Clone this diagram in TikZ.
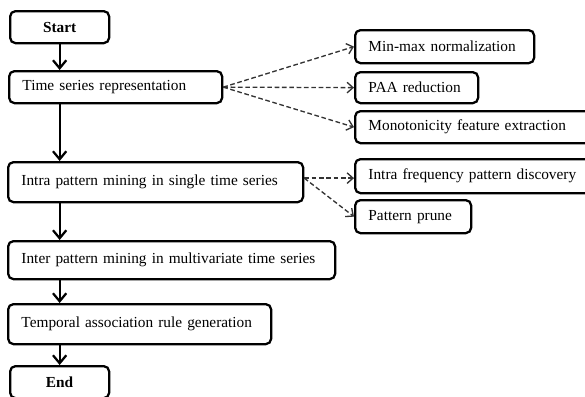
\documentclass[tikz,border=0pt]{standalone}
\usepackage{fontspec}
\setmainfont{Liberation Serif}
\usetikzlibrary{arrows.meta}

\begin{document}
\begin{tikzpicture}[x=0.75pt, y=-0.75pt,
  box/.style={draw, rounded corners=4pt, line width=1.7pt, anchor=north west,
              inner xsep=10pt, inner ysep=0pt, align=left,
              font=\fontsize{11.5}{13}\selectfont},
  term/.style={box, align=center, font=\fontsize{11.5}{13}\selectfont\bfseries},
  flow/.style={line width=1.7pt, -{Straight Barb[length=6pt, width=10pt]}},
  dashflow/.style={line width=1pt, black!80, dash pattern=on 3.5pt off 2pt,
                   -{Straight Barb[length=4.5pt, width=8pt]}}]

%─────────────
% Frame (pixels of the page)
%─────────────
\clip (0,0) rectangle (585,396);

%───────────────────────────────────────────────────────
% Command to place a step box
% #1 = name, (#2,#3) = top left corner, #4 = width, #5 = height, #6 = text
%───────────────────────────────────────────────────────
\newcommand{\flowBox}[6]{%
  \pgfmathsetmacro{\tw}{#4*0.75-20}
  \node[box, text width=\tw pt, minimum height=#5*0.75pt] (#1) at (#2,#3) {#6};
}

%─────────────
% Main chain
%─────────────
\node[term, text width=54.25pt, minimum height=24pt] (start) at (9,10) {Start};
\flowBox{tsr}{8}{70}{213}{32}{Time series representation}
\flowBox{intra}{7}{161}{295}{40}{Intra pattern mining in single time series}
\flowBox{inter}{7}{240}{327}{38}{Inter pattern mining in multivariate time series}
\flowBox{rule}{7}{303}{263}{40}{Temporal association rule generation}
\node[term, text width=54.25pt, minimum height=24pt] (end) at (9,365) {End};

%─────────────
% Side steps
%─────────────
\flowBox{minmax}{354}{29}{179}{33}{Min-max normalization}
\flowBox{paa}{354}{71}{123}{31}{PAA reduction}
\flowBox{mono}{354}{110}{240}{32}{Monotonicity feature extraction}
\flowBox{freq}{354}{158}{240}{34}{Intra frequency pattern discovery}
\flowBox{prune}{354}{199}{116}{33}{Pattern prune}

%─────────────
% Connectors
%─────────────
\draw[flow] (start.south) -- (start.south |- tsr.north);
\draw[flow] (start.south |- tsr.south) -- (start.south |- intra.north);
\draw[flow] (start.south |- intra.south) -- (start.south |- inter.north);
\draw[flow] (start.south |- inter.south) -- (start.south |- rule.north);
\draw[flow] (start.south |- rule.south) -- (end.north);

\foreach \target in {minmax, paa, mono} {
  \draw[dashflow] (tsr.east) -- (\target.west);
}
\draw[dashflow] (intra.east) ++(0,-4) coordinate (ia) -- (ia -| freq.west);
\draw[dashflow] (ia) -- (prune.west);

\end{tikzpicture}
\end{document}
